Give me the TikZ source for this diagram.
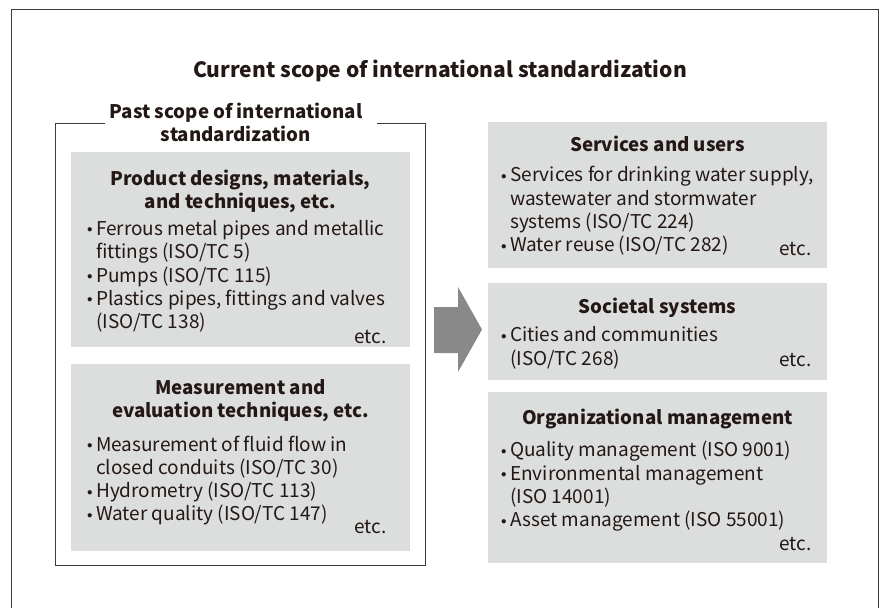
\documentclass[tikz,border=0pt]{standalone}
\usepackage{fontspec}
\setmainfont{Noto Sans CJK JP}
\usetikzlibrary{positioning}
\definecolor{panel-gray}{HTML}{DCDDDD}
\definecolor{frame-gray}{HTML}{3E3A39}
\definecolor{ink}{HTML}{231815}
\definecolor{arrow-gray}{HTML}{898989}
\newcommand{\bul}{\llap{\raisebox{2.6pt}{\fontsize{11}{11}\selectfont$\bullet$}\hspace{3.5pt}}}

\begin{document}
\begin{tikzpicture}[x=1pt, y=-1pt,
    panel/.style={fill=panel-gray, minimum width=339pt, inner sep=0pt},
    heading/.style={font=\bfseries\fontsize{18.7}{22}\selectfont, text=ink, anchor=base, inner sep=0pt},
    item/.style={font=\fontsize{19}{22}\selectfont, text=ink, anchor=base west, inner sep=0pt},
    etc/.style={font=\fontsize{19}{22}\selectfont, text=ink, anchor=base east, inner sep=0pt}]

    \useasboundingbox (0,0) rectangle (880,608);

    % outer frame, open at the bottom
    \draw[frame-gray, line width=1pt] (11,608) -- (11,9) -- (878,9) -- (878,608);

    \draw (440,77.5) 
		node[heading, font=\bfseries\fontsize{21}{25}\selectfont] 
			(Current scope) {Current scope of international standardization};

    % past scope bracket
    \draw (236,118.5) node[heading] (Past scope) {Past scope of international};
    \draw (236,141.5) node[heading] (Past scope 2) {standardization};
    \draw[frame-gray, line width=1pt] (105,123) -- (55,123) -- (55,565) -- (425,565) -- (425,123) -- (377,123);

    % grey panels
    \draw (240.5,249.5) node[panel, minimum height=195pt] (Product panel) {};
    \draw (240.5,457.5) node[panel, minimum height=187pt] (Measurement panel) {};
    \draw (657.5,195.0) node[panel, minimum height=146pt] (Services panel) {};
    \draw (657.5,331.5) node[panel, minimum height=97pt] (Societal panel) {};
    \draw (657.5,477.5) node[panel, minimum height=171pt] (Organizational panel) {};

    \fill[arrow-gray] (434,307) -- (458,307) -- (458,287) -- (482,329.5) -- (458,372) -- (458,353) -- (434,353) -- cycle;

    % product designs
    \draw (240.5,185) node[heading] (Product head) {Product designs, materials,};
    \draw (240.5,208) node[heading] (Product head 2) {and techniques, etc.};
    \foreach \txt [count=\k from 0] in {{\bul Ferrous metal pipes and metallic}, {fittings (ISO/TC 5)},
        {\bul Pumps (ISO/TC 115)}, {\bul Plastics pipes, fittings and valves}, {(ISO/TC 138)}}
        \draw (96,235.5+23.3*\k) node[item] (Product item \k) {\txt};
    \draw (386.7,343) node[etc] (Product etc) {etc.};

    % measurement
    \draw (240.5,394) node[heading] (Measurement head) {Measurement and};
    \draw (240.5,417) node[heading] (Measurement head 2) {evaluation techniques, etc.};
    \foreach \txt [count=\k from 0] in {{\bul Measurement of fluid flow in}, {closed conduits (ISO/TC 30)},
        {\bul Hydrometry (ISO/TC 113)}, {\bul Water quality (ISO/TC 147)}}
        \draw (96,451+23.3*\k) node[item] (Measurement item \k) {\txt};
    \draw (386.7,533.3) node[etc] (Measurement etc) {etc.};

    % services and users
    \draw (657.5,151.7) node[heading] (Services head) {Services and users};
    \foreach \txt [count=\k from 0] in {{\bul Services for drinking water supply,}, {wastewater and stormwater},
        {systems (ISO/TC 224)}, {\bul Water reuse (ISO/TC 282)}}
        \draw (510,181.7+23.3*\k) node[item] (Services item \k) {\txt};
    \draw (811.7,255) node[etc] (Services etc) {etc.};

    % societal systems
    \draw (657.5,313.3) node[heading] (Societal head) {Societal systems};
    \foreach \txt [count=\k from 0] in {{\bul Cities and communities}, {(ISO/TC 268)}}
        \draw (510,341.7+23.3*\k) node[item] (Societal item \k) {\txt};
    \draw (811.7,366) node[etc] (Societal etc) {etc.};

    % organizational management
    \draw (657.5,424) node[heading] (Organizational head) {Organizational management};
    \foreach \txt [count=\k from 0] in {{\bul Quality management (ISO 9001)}, {\bul Environmental management},
        {(ISO 14001)}, {\bul Asset management (ISO 55001)}}
        \draw (510,456.7+23.3*\k) node[item] (Organizational item \k) {\txt};
    \draw (811.7,550) node[etc] (Organizational etc) {etc.};

\end{tikzpicture}
\end{document}
